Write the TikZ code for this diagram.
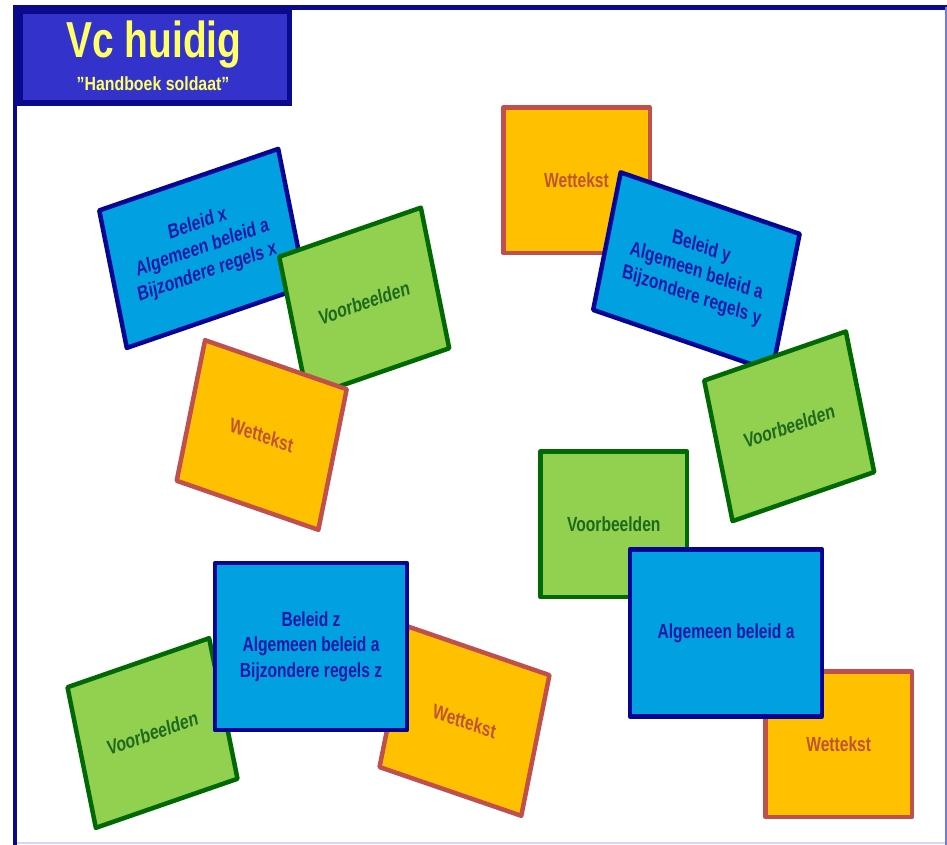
\documentclass[tikz,border=0pt]{standalone}
\usepackage{fontspec}
\setmainfont{Liberation Sans}
\definecolor{framenavy}{RGB}{10,10,140}
\definecolor{titlefillc}{RGB}{51,51,204}
\definecolor{titleyellow}{RGB}{255,255,102}
\definecolor{bluefill}{RGB}{0,160,225}
\definecolor{bluedraw}{RGB}{5,5,150}
\definecolor{bluetext}{RGB}{25,25,165}
\definecolor{greenfill}{RGB}{146,208,80}
\definecolor{greendraw}{RGB}{0,105,0}
\definecolor{greentext}{RGB}{30,105,30}
\definecolor{orangefill}{RGB}{255,192,0}
\definecolor{orangedraw}{RGB}{192,80,77}
\definecolor{orangetext}{RGB}{190,85,50}
\definecolor{edgelav}{RGB}{120,120,225}
\definecolor{edgefaint}{RGB}{215,215,245}
\begin{document}
\begin{tikzpicture}[x=1pt,y=-1pt,
  card/.style={transform shape, line width=4.5pt, line join=round, align=center, inner sep=0pt,
    font=\fontsize{15.6}{19.2}\selectfont\bfseries},
  bluecard/.style={card, draw=bluedraw, fill=bluefill, text=bluetext},
  greencard/.style={card, draw=greendraw, fill=greenfill, text=greentext},
  orangecard/.style={card, draw=orangedraw, fill=orangefill, text=orangetext},
  smallcard/.style={minimum width=146.5pt, minimum height=111pt},
  bigcard/.style={minimum width=192pt, minimum height=127.5pt},
  tiltcard/.style={minimum width=185pt, minimum height=108.5pt},
  titletext/.style={transform shape, anchor=base, inner sep=0pt, text=titleyellow},
]
\useasboundingbox (0,0) rectangle (947,845);
\fill[white] (0,0) rectangle (947,845);

% outer frame
\draw[framenavy, line width=5pt] (15,7.5) -- (947,7.5);
\draw[framenavy, line width=4pt] (15.3,5) -- (15.3,845);
\draw[edgelav, line width=1.5pt] (945.8,7) -- (945.8,845);
\draw[edgefaint, line width=1.5pt] (17,843) -- (945,843);

% ---------- top-left group ----------
\begin{scope}[shift={(202.5,248.4)}, yscale=1.31, rotate=14.7]
  \node[bluecard, tiltcard] (beleidx) at (0,0) {Beleid x\\Algemeen beleid a\\Bijzondere regels x};
\end{scope}
\begin{scope}[shift={(364.2,302.5)}, yscale=1.31, rotate=14.8]
  \node[greencard, smallcard] (voorbx) at (0,0) {Voorbeelden};
\end{scope}
\begin{scope}[shift={(261.7,435)}, yscale=1.31, rotate=-14.8]
  \node[orangecard, smallcard] (wetx) at (0,0) {Wettekst};
\end{scope}

% ---------- top-right group ----------
\begin{scope}[shift={(576.5,180.3)}, yscale=1.31]
  \node[orangecard, smallcard] (wety) at (0,0) {Wettekst};
\end{scope}
\begin{scope}[shift={(696.4,271.9)}, yscale=1.31, rotate=-14.7]
  \node[bluecard, tiltcard] (beleidy) at (0,0) {Beleid y\\Algemeen beleid a\\Bijzondere regels y};
\end{scope}
\begin{scope}[shift={(789.2,426.3)}, yscale=1.31, rotate=14.8]
  \node[greencard, smallcard] (voorby) at (0,0) {Voorbeelden};
\end{scope}

% ---------- bottom-right group ----------
\begin{scope}[shift={(613.8,524.3)}, yscale=1.31]
  \node[greencard, smallcard] (voorba) at (0,0) {Voorbeelden};
\end{scope}
\begin{scope}[shift={(838.7,744.2)}, yscale=1.31]
  \node[orangecard, smallcard] (weta) at (0,0) {Wettekst};
\end{scope}
\begin{scope}[shift={(726,632.8)}, yscale=1.31]
  \node[bluecard, bigcard] (beleida) at (0,0) {Algemeen beleid a};
\end{scope}

% ---------- bottom-left group ----------
\begin{scope}[shift={(152.5,733)}, yscale=1.31, rotate=14.8]
  \node[greencard, smallcard] (voorbz) at (0,0) {Voorbeelden};
\end{scope}
\begin{scope}[shift={(464.5,721.1)}, yscale=1.31, rotate=-14.7]
  \node[orangecard, smallcard] (wetz) at (0,0) {Wettekst};
\end{scope}
\begin{scope}[shift={(311,646.7)}, yscale=1.31]
  \node[bluecard, bigcard] (beleidz) at (0,0) {Beleid z\\Algemeen beleid a\\Bijzondere regels z};
\end{scope}

% ---------- title ----------
\node[fill=framenavy, anchor=north west, minimum width=278.4pt, minimum height=101pt, inner sep=0pt] (titleframe) at (13.3,5) {};
\node[fill=titlefillc, anchor=north west, minimum width=264pt, minimum height=86pt, inner sep=0pt] (titlefill) at (22.7,14) {};
\begin{scope}[shift={(154,58)}, yscale=1.3]
  \node[titletext, font=\fontsize{38.9}{40}\selectfont\bfseries] (vc) at (0,0) {Vc huidig};
\end{scope}
\begin{scope}[shift={(153,91)}, yscale=1.2]
  \node[titletext, font=\fontsize{15.9}{18}\selectfont\bfseries] (hb) at (0,0) {”Handboek soldaat”};
\end{scope}
\end{tikzpicture}
\end{document}
